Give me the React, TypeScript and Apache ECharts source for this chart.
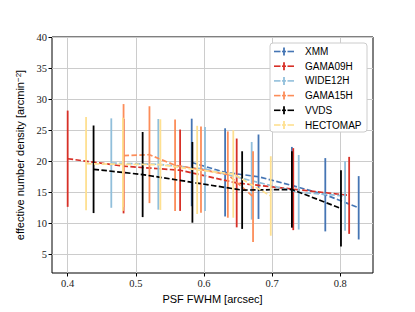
import React, { useEffect, useRef } from "react";
import * as echarts from "echarts";

const surveys = ["XMM", "GAMA09H", "WIDE12H", "GAMA15H", "VVDS", "HECTOMAP"];
const colors = ["#4575b4", "#d73027", "#91bfdb", "#fc8d59", "#000000", "#fee090"];

const xmmX = [0.582, 0.631, 0.68, 0.729, 0.778, 0.827];
const xmmY = [19.8, 18.2, 17.5, 16.1, 14.6, 12.5];
const xmmErr = [7.05, 7.1, 6.8, 6.2, 5.9, 5.1];

const gama09X = [0.4, 0.482, 0.565, 0.648, 0.731, 0.813];
const gama09Y = [20.4, 19.2, 18.55, 16.5, 15.5, 14.5];
const gama09Err = [7.75, 7.6, 6.55, 7.15, 6.6, 6.2];

const wide12X = [0.464, 0.533, 0.6015, 0.67, 0.739, 0.807];
const wide12Y = [19.7, 19.5, 18.75, 16.85, 15.0, 14.4];
const wide12Err = [7.2, 7.3, 6.75, 6.25, 6.0, 5.6];

const gama15X = [0.482, 0.52, 0.5576, 0.5956, 0.635, 0.672];
const gama15Y = [20.9, 21.05, 19.35, 18.65, 17.85, 14.3];
const gama15Err = [8.3, 7.8, 7.35, 6.95, 6.95, 7.3];

const vvdsX = [0.438, 0.51, 0.583, 0.656, 0.729, 0.801];
const vvdsY = [18.7, 17.85, 16.6, 15.35, 15.45, 12.4];
const vvdsErr = [7.05, 6.85, 6.5, 6.25, 6.15, 6.15];

const hectoX = [0.427, 0.481, 0.536, 0.59, 0.643, 0.698];
const hectoY = [19.6, 19.5, 19.45, 18.6, 17.95, 14.4];
const hectoErr = [7.5, 7.5, 7.3, 7.1, 7.05, 6.4];

const xTicks = [0.4, 0.5, 0.6, 0.7, 0.8];
const yTicks = [5, 10, 15, 20, 25, 30, 35, 40];

const allX = [xmmX, gama09X, wide12X, gama15X, vvdsX, hectoX];
const allY = [xmmY, gama09Y, wide12Y, gama15Y, vvdsY, hectoY];
const allErr = [xmmErr, gama09Err, wide12Err, gama15Err, vvdsErr, hectoErr];

export default function App() {
  const ref = useRef<HTMLDivElement>(null);
  useEffect(() => {
    if (!ref.current) return;
    const chart = echarts.init(ref.current, null, { renderer: "svg" });
    const series: any[] = [];
    surveys.forEach((name, s) => {
      const color = colors[s];
      const xs = allX[s];
      const ys = allY[s];
      const es = allErr[s];
      series.push({
        type: "custom",
        name,
        data: xs.map((x, i) => [x, ys[i] - es[i], ys[i] + es[i]]),
        encode: { x: 0, y: [1, 2] },
        renderItem: (params: any, api: any) => {
          const p1 = api.coord([api.value(0), api.value(1)]);
          const p2 = api.coord([api.value(0), api.value(2)]);
          return {
            type: "line",
            shape: { x1: p1[0], y1: p1[1], x2: p2[0], y2: p2[1] },
            style: { stroke: color, lineWidth: 1.8 },
          };
        },
        z: 2 + s,
      });
      series.push({
        type: "line",
        name,
        data: xs.map((x, i) => [x, ys[i]]),
        symbol: "none",
        lineStyle: { color, width: 1.7, type: [5.5, 2.4] },
        z: 2 + s,
      });
    });

    const LZ = 1000;
    const legendElems: any[] = [
      {
        type: "rect",
        z: LZ,
        zlevel: 1,
        shape: { x: 270, y: 43, width: 97, height: 89, r: 3 },
        style: { fill: "#ffffff", stroke: "#cccccc", lineWidth: 1 },
      },
    ];
    surveys.forEach((name, i) => {
      const yc = 51.5 + i * 14.7;
      const c = colors[i];
      const segs = [
        [274, 280.5],
        [282, 286],
        [287.5, 294],
      ];
      segs.forEach((sg) => {
        legendElems.push({
          type: "line",
          z: LZ + 1,
          zlevel: 1,
          shape: { x1: sg[0], y1: yc, x2: sg[1], y2: yc },
          style: { stroke: c, lineWidth: 1.6 },
        });
      });
      legendElems.push({
        type: "line",
        z: LZ + 1,
        zlevel: 1,
        shape: { x1: 284, y1: yc - 4, x2: 284, y2: yc + 4 },
        style: { stroke: c, lineWidth: 1.8 },
      });
      legendElems.push({
        type: "text",
        z: LZ + 2,
        zlevel: 1,
        x: 305,
        y: yc,
        style: {
          text: name,
          fill: "#000",
          font: "10px 'Liberation Sans'",
          textVerticalAlign: "middle",
          textAlign: "left",
        },
      });
    });

    chart.setOption({
      animation: false,
      backgroundColor: "#ffffff",
      grid: {
        left: 52,
        right: 42,
        top: 37,
        bottom: 39,
        show: true,
        borderColor: "#000",
        borderWidth: 1,
        backgroundColor: "transparent",
      },
      xAxis: {
        type: "value",
        min: 0.377,
        max: 0.848,
        name: "PSF FWHM [arcsec]",
        nameLocation: "middle",
        nameGap: 20,
        nameTextStyle: { fontFamily: "Liberation Sans", fontSize: 11, color: "#000" },
        axisLine: { show: false },
        axisTick: { show: true, length: 3.5, customValues: xTicks, lineStyle: { color: "#000" } },
        axisLabel: {
          customValues: xTicks,
          formatter: (v: number) => v.toFixed(1),
          fontFamily: "Liberation Serif",
          fontSize: 10.5,
          color: "#222",
          margin: 5,
        },
        splitLine: { show: true, lineStyle: { color: "#cccccc", width: 1 } },
      },
      yAxis: {
        type: "value",
        min: 2,
        max: 40,
        name: "effective number density [arcmin{sup|−2}]",
        nameLocation: "middle",
        nameGap: 24,
        nameRotate: 90,
        nameTextStyle: {
          fontFamily: "Liberation Sans",
          fontSize: 11,
          color: "#000",
          rich: { sup: { fontSize: 8, verticalAlign: "top", lineHeight: 8, fontFamily: "Liberation Sans", color: "#000" } },
        },
        axisLine: { show: false },
        axisTick: { show: true, length: 3.5, customValues: yTicks, lineStyle: { color: "#000" } },
        axisLabel: {
          customValues: yTicks,
          fontFamily: "Liberation Serif",
          fontSize: 10.5,
          color: "#222",
          margin: 5,
        },
        splitLine: { show: true, lineStyle: { color: "#cccccc", width: 1 } },
      },
      series,
      graphic: { elements: legendElems },
    });
    return () => chart.dispose();
  }, []);
  return (
    <div
      ref={ref}
      style={{ position: "fixed", left: 0, top: 0, width: 415, height: 312, background: "#fff" }}
    />
  );
}
